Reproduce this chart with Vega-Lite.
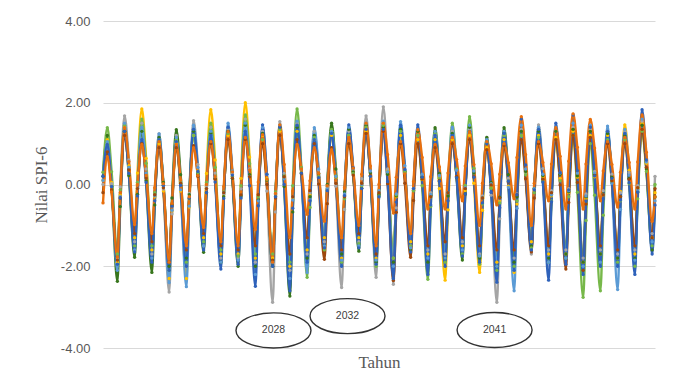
{
"$schema":"https://vega.github.io/schema/vega-lite/v6.json",
"width":552,"height":327,
"autosize":{"type":"none"},
"padding":{"left":103,"top":21,"right":20,"bottom":41},
"background":"white",
"config":{"view":{"stroke":null},"locale":{"number":{"decimal":".","thousands":",","grouping":[3],"currency":["$",""],"minus":"-"}}},
"datasets":{
"spi":[
{"m":0,"a":0.1,"b":0,"c":0.2,"d":0.3,"e":0.1,"f":-0.2,"g":0.2,"h":-0.45},
{"m":3,"a":1.1,"b":1.0,"c":1.2,"d":1.39,"e":1.05,"f":0.8,"g":0.98,"h":0.68},
{"m":6,"a":0.05,"b":0.02,"c":-0.05,"d":0.31,"e":-0.05,"f":-0.13,"g":-0.05,"h":-0.18},
{"m":10,"a":-1.9,"b":-1.8,"c":-2.37,"d":-1.7,"e":-2.1,"f":-1.85,"g":-1.95,"h":-1.78},
{"m":12,"a":-0.25,"b":-0.06,"c":-0.54,"d":-0.13,"e":-0.3,"f":-0.33,"g":-0.33,"h":-0.2},
{"m":15,"a":1.4,"b":1.68,"c":1.3,"d":1.45,"e":1.5,"f":1.2,"g":1.3,"h":1.39},
{"m":18,"a":0.46,"b":0.6,"c":0.22,"d":0.42,"e":0.42,"f":0.36,"g":0.27,"h":0.56},
{"m":22,"a":-1.3,"b":-1.4,"c":-1.78,"d":-1.5,"e":-1.6,"f":-1.2,"g":-1.65,"h":-0.98},
{"m":24,"a":0.28,"b":0.05,"c":-0.24,"d":0.05,"e":-0.1,"f":-0.1,"g":-0.28,"h":0},
{"m":27,"a":1.85,"b":1.5,"c":1.3,"d":1.6,"e":1.4,"f":1.0,"g":1.1,"h":0.98},
{"m":30,"a":0.64,"b":0.38,"c":0.09,"d":0.52,"e":0.28,"f":0.16,"g":0.05,"h":0.22},
{"m":34,"a":-1.6,"b":-1.7,"c":-2.15,"d":-1.5,"e":-1.8,"f":-1.4,"g":-1.9,"h":-1.2},
{"m":36,"a":-0.3,"b":-0.23,"c":-0.5,"d":-0.2,"e":-0.28,"f":-0.25,"g":-0.4,"h":-0.08},
{"m":39,"a":1.0,"b":1.24,"c":1.15,"d":1.1,"e":1.24,"f":0.9,"g":1.1,"h":1.05},
{"m":42,"a":-0.16,"b":-0.11,"c":0.05,"d":-0.02,"e":-0.03,"f":-0.08,"g":-0.02,"h":0.02},
{"m":46,"a":-2.3,"b":-2.63,"c":-2.0,"d":-2.1,"e":-2.4,"f":-1.9,"g":-2.1,"h":-1.9},
{"m":48,"a":-0.65,"b":-0.72,"c":-0.33,"d":-0.5,"e":-0.63,"f":-0.5,"g":-0.53,"h":-0.46},
{"m":51,"a":1.0,"b":1.2,"c":1.34,"d":1.1,"e":1.15,"f":0.9,"g":1.05,"h":0.98},
{"m":54,"a":-0.16,"b":0.08,"c":0.24,"d":0.05,"e":-0.13,"f":0.03,"g":-0.02,"h":0.11},
{"m":58,"a":-2.3,"b":-2.0,"c":-1.8,"d":-1.9,"e":-2.5,"f":-1.6,"g":-2.0,"h":-1.5},
{"m":60,"a":-0.55,"b":-0.22,"c":-0.25,"d":-0.35,"e":-0.53,"f":-0.33,"g":-0.33,"h":-0.3},
{"m":63,"a":1.2,"b":1.56,"c":1.3,"d":1.2,"e":1.45,"f":0.95,"g":1.35,"h":0.9},
{"m":66,"a":0.33,"b":0.49,"c":0.26,"d":0.29,"e":0.42,"f":0.2,"g":0.32,"h":0.22},
{"m":70,"a":-1.3,"b":-1.5,"c":-1.66,"d":-1.4,"e":-1.5,"f":-1.2,"g":-1.6,"h":-1.05},
{"m":72,"a":0.27,"b":-0.05,"c":-0.2,"d":0.05,"e":-0.1,"f":-0.1,"g":-0.2,"h":0},
{"m":75,"a":1.83,"b":1.4,"c":1.25,"d":1.5,"e":1.3,"f":1.0,"g":1.2,"h":1.05},
{"m":78,"a":0.6,"b":0.28,"c":0.15,"d":0.42,"e":0.18,"f":0.13,"g":0.06,"h":0.19},
{"m":82,"a":-1.7,"b":-1.8,"c":-1.9,"d":-1.6,"e":-1.9,"f":-1.5,"g":-2.07,"h":-1.4},
{"m":84,"a":-0.25,"b":-0.23,"c":-0.3,"d":-0.18,"e":-0.2,"f":-0.2,"g":-0.34,"h":-0.05},
{"m":87,"a":1.2,"b":1.35,"c":1.3,"d":1.25,"e":1.5,"f":1.1,"g":1.4,"h":1.29},
{"m":90,"a":0.19,"b":0.25,"c":0.15,"d":0.2,"e":0.33,"f":0.16,"g":0.23,"h":0.31},
{"m":94,"a":-1.7,"b":-1.8,"c":-2.0,"d":-1.75,"e":-1.85,"f":-1.6,"g":-1.95,"h":-1.5},
{"m":96,"a":0.15,"b":-0.1,"c":-0.28,"d":-0.03,"e":-0.18,"f":-0.25,"g":-0.33,"h":-0.18},
{"m":99,"a":2.0,"b":1.6,"c":1.45,"d":1.7,"e":1.5,"f":1.1,"g":1.3,"h":1.15},
{"m":102,"a":0.67,"b":0.38,"c":0.24,"d":0.51,"e":0.2,"f":0.19,"g":-0.03,"h":0.36},
{"m":106,"a":-1.8,"b":-1.9,"c":-2.0,"d":-1.7,"e":-2.2,"f":-1.5,"g":-2.49,"h":-1.1},
{"m":108,"a":-0.3,"b":-0.3,"c":-0.38,"d":-0.3,"e":-0.4,"f":-0.25,"g":-0.52,"h":0.06},
{"m":111,"a":1.2,"b":1.3,"c":1.25,"d":1.1,"e":1.4,"f":1.0,"g":1.46,"h":1.22},
{"m":114,"a":0.15,"b":-0.16,"c":0.11,"d":0.12,"e":0.25,"f":0,"g":0.25,"h":0.13},
{"m":118,"a":-1.8,"b":-2.88,"c":-2.0,"d":-1.7,"e":-1.9,"f":-1.85,"g":-2.0,"h":-1.9},
{"m":120,"a":-0.25,"b":-0.67,"c":-0.3,"d":-0.18,"e":-0.23,"f":-0.33,"g":-0.3,"h":-0.22},
{"m":123,"a":1.3,"b":1.54,"c":1.4,"d":1.35,"e":1.45,"f":1.2,"g":1.4,"h":1.46},
{"m":126,"a":0.15,"b":0.27,"c":-0.05,"d":0.21,"e":0.14,"f":0.19,"g":0,"h":0.49},
{"m":130,"a":-2.0,"b":-2.1,"c":-2.73,"d":-1.9,"e":-2.3,"f":-1.7,"g":-2.6,"h":-1.3},
{"m":132,"a":-0.35,"b":-0.3,"c":-0.67,"d":-0.03,"e":-0.38,"f":-0.3,"g":-0.58,"h":-0.16},
{"m":135,"a":1.3,"b":1.5,"c":1.4,"d":1.85,"e":1.55,"f":1.1,"g":1.45,"h":0.98},
{"m":138,"a":0.29,"b":0.38,"c":0.28,"d":0.41,"e":0.26,"f":0.26,"g":0.28,"h":0.38},
{"m":142,"a":-1.6,"b":-1.7,"c":-1.8,"d":-2.27,"e":-2.15,"f":-1.3,"g":-1.9,"h":-0.73},
{"m":144,"a":-0.25,"b":-0.2,"c":-0.3,"d":-0.56,"e":-0.38,"f":-0.15,"g":-0.4,"h":0.09},
{"m":147,"a":1.1,"b":1.3,"c":1.2,"d":1.15,"e":1.39,"f":1.0,"g":1.1,"h":0.9},
{"m":150,"a":0.26,"b":0.36,"c":0.26,"d":0.19,"e":0.38,"f":0.01,"g":0.17,"h":0.27},
{"m":154,"a":-1.3,"b":-1.4,"c":-1.5,"d":-1.6,"e":-1.5,"f":-1.83,"g":-1.55,"h":-0.9},
{"m":156,"a":-0.05,"b":-0.05,"c":0,"d":-0.13,"e":-0.1,"f":-0.47,"g":-0.15,"h":-0.03},
{"m":159,"a":1.2,"b":1.3,"c":1.5,"d":1.35,"e":1.3,"f":0.9,"g":1.25,"h":0.85},
{"m":162,"a":0.15,"b":-0.04,"c":0.38,"d":0.21,"e":0.2,"f":0.03,"g":0.11,"h":0.1},
{"m":166,"a":-1.8,"b":-2.52,"c":-1.7,"d":-1.9,"e":-1.85,"f":-1.6,"g":-2.0,"h":-1.3},
{"m":168,"a":-0.3,"b":-0.61,"c":-0.18,"d":-0.35,"e":-0.23,"f":-0.3,"g":-0.27,"h":-0.08},
{"m":171,"a":1.2,"b":1.3,"c":1.35,"d":1.2,"e":1.4,"f":1.0,"g":1.46,"h":1.15},
{"m":174,"a":0.33,"b":0.36,"c":0.31,"d":0.27,"e":0.39,"f":0.23,"g":0.41,"h":0.4},
{"m":178,"a":-1.3,"b":-1.4,"c":-1.63,"d":-1.45,"e":-1.5,"f":-1.2,"g":-1.55,"h":-1.0},
{"m":180,"a":0,"b":0.14,"c":-0.09,"d":-0.03,"e":0,"f":0.03,"g":-0.1,"h":0.25},
{"m":183,"a":1.3,"b":1.68,"c":1.45,"d":1.4,"e":1.5,"f":1.25,"g":1.35,"h":1.5},
{"m":186,"a":0.22,"b":0.3,"c":0.28,"d":0.21,"e":0.33,"f":0.22,"g":0.2,"h":0.45},
{"m":190,"a":-1.8,"b":-2.27,"c":-1.9,"d":-2.0,"e":-1.85,"f":-1.7,"g":-1.95,"h":-1.5},
{"m":192,"a":-0.15,"b":-0.19,"c":-0.25,"d":-0.28,"e":-0.15,"f":-0.2,"g":-0.3,"h":0},
{"m":195,"a":1.5,"b":1.9,"c":1.4,"d":1.45,"e":1.55,"f":1.3,"g":1.35,"h":1.5},
{"m":198,"a":0.35,"b":0.38,"c":0.25,"d":0.31,"e":0.31,"f":0.02,"g":0.07,"h":0.73},
{"m":202,"a":-1.8,"b":-2.44,"c":-1.9,"d":-1.8,"e":-2.0,"f":-2.35,"g":-2.3,"h":-0.7},
{"m":204,"a":-0.3,"b":-0.57,"c":-0.28,"d":-0.25,"e":-0.23,"f":-0.68,"g":-0.43,"h":0.18},
{"m":207,"a":1.2,"b":1.3,"c":1.35,"d":1.3,"e":1.54,"f":1.0,"g":1.45,"h":1.05},
{"m":210,"a":0.29,"b":0.32,"c":0.32,"d":0.32,"e":0.46,"f":0.03,"g":0.37,"h":0.26},
{"m":214,"a":-1.4,"b":-1.5,"c":-1.6,"d":-1.5,"e":-1.55,"f":-1.78,"g":-1.65,"h":-1.2},
{"m":216,"a":-0.15,"b":-0.15,"c":-0.15,"d":-0.15,"e":-0.1,"f":-0.39,"g":-0.1,"h":0.07},
{"m":219,"a":1.1,"b":1.2,"c":1.3,"d":1.2,"e":1.35,"f":1.0,"g":1.46,"h":1.34},
{"m":222,"a":0.12,"b":0.22,"c":0.18,"d":-0.03,"e":0.25,"f":0.13,"g":0.18,"h":0.66},
{"m":226,"a":-1.7,"b":-1.6,"c":-1.9,"d":-2.32,"e":-1.8,"f":-1.5,"g":-2.2,"h":-0.6},
{"m":228,"a":-0.3,"b":-0.2,"c":-0.26,"d":-0.54,"e":-0.25,"f":-0.3,"g":-0.5,"h":0.19},
{"m":231,"a":1.1,"b":1.2,"c":1.39,"d":1.25,"e":1.3,"f":0.9,"g":1.2,"h":0.98},
{"m":234,"a":-0.1,"b":0.19,"c":0.27,"d":0.15,"e":0.22,"f":0.1,"g":0.08,"h":0.43},
{"m":238,"a":-2.34,"b":-1.7,"c":-1.8,"d":-1.9,"e":-1.8,"f":-1.4,"g":-2.0,"h":-0.6},
{"m":240,"a":-0.62,"b":-0.2,"c":-0.28,"d":-0.2,"e":-0.2,"f":-0.2,"g":-0.4,"h":0.28},
{"m":243,"a":1.1,"b":1.3,"c":1.25,"d":1.5,"e":1.4,"f":1.0,"g":1.2,"h":1.15},
{"m":246,"a":0.19,"b":0.36,"c":0.17,"d":0.38,"e":0.35,"f":0.2,"g":0.17,"h":0.61},
{"m":250,"a":-1.5,"b":-1.4,"c":-1.85,"d":-1.7,"e":-1.6,"f":-1.3,"g":-1.75,"h":-0.4},
{"m":252,"a":-0.15,"b":-0.03,"c":-0.23,"d":-0.02,"e":-0.08,"f":-0.1,"g":-0.23,"h":0.45},
{"m":255,"a":1.2,"b":1.35,"c":1.4,"d":1.66,"e":1.45,"f":1.1,"g":1.3,"h":1.29},
{"m":258,"a":0.03,"b":0.28,"c":0.28,"d":0.4,"e":0.33,"f":0.19,"g":0.18,"h":0.49},
{"m":262,"a":-2.15,"b":-1.7,"c":-1.8,"d":-1.95,"e":-1.75,"f":-1.5,"g":-1.9,"h":-1.0},
{"m":264,"a":-0.63,"b":-0.28,"c":-0.33,"d":-0.48,"e":-0.33,"f":-0.33,"g":-0.45,"h":0.03},
{"m":267,"a":0.9,"b":1.15,"c":1.15,"d":1.0,"e":1.1,"f":0.85,"g":1.0,"h":1.05},
{"m":270,"a":-0.08,"b":-0.26,"c":0.05,"d":-0.09,"e":0.02,"f":-0.01,"g":-0.19,"h":0.51},
{"m":274,"a":-1.9,"b":-2.88,"c":-2.0,"d":-2.1,"e":-2.0,"f":-1.6,"g":-2.39,"h":-0.5},
{"m":276,"a":-0.4,"b":-0.84,"c":-0.31,"d":-0.45,"e":-0.35,"f":-0.33,"g":-0.57,"h":0.25},
{"m":279,"a":1.1,"b":1.2,"c":1.39,"d":1.2,"e":1.3,"f":0.95,"g":1.25,"h":1.0},
{"m":282,"a":-0.04,"b":0.15,"c":0.24,"d":0.08,"e":-0.07,"f":0.06,"g":0.08,"h":0.53},
{"m":286,"a":-2.15,"b":-1.8,"c":-1.9,"d":-2.0,"e":-2.6,"f":-1.6,"g":-2.1,"h":-0.35},
{"m":288,"a":-0.48,"b":-0.23,"c":-0.3,"d":-0.4,"e":-0.58,"f":-0.25,"g":-0.25,"h":0.66},
{"m":291,"a":1.2,"b":1.35,"c":1.3,"d":1.2,"e":1.45,"f":1.1,"g":1.6,"h":1.66},
{"m":294,"a":0.29,"b":0.28,"c":0.32,"d":0.24,"e":0.38,"f":0.14,"g":0.48,"h":0.73},
{"m":298,"a":-1.4,"b":-1.7,"c":-1.5,"d":-1.55,"e":-1.6,"f":-1.65,"g":-1.6,"h":-1.0},
{"m":300,"a":-0.1,"b":-0.12,"c":-0.1,"d":-0.2,"e":-0.1,"f":-0.33,"g":-0.13,"h":0.03},
{"m":303,"a":1.2,"b":1.46,"c":1.3,"d":1.15,"e":1.4,"f":1.0,"g":1.35,"h":1.05},
{"m":306,"a":0.19,"b":0.39,"c":0.22,"d":0.08,"e":0.25,"f":0.13,"g":0.06,"h":0.54},
{"m":310,"a":-1.7,"b":-1.6,"c":-1.8,"d":-1.9,"e":-1.9,"f":-1.5,"g":-2.34,"h":-0.4},
{"m":312,"a":-0.28,"b":-0.15,"c":-0.25,"d":-0.4,"e":-0.25,"f":-0.2,"g":-0.42,"h":0.5},
{"m":315,"a":1.15,"b":1.3,"c":1.3,"d":1.1,"e":1.4,"f":1.1,"g":1.5,"h":1.39},
{"m":318,"a":0.15,"b":0.29,"c":0.25,"d":0.09,"e":0.28,"f":-0.01,"g":0.29,"h":0.69},
{"m":322,"a":-1.7,"b":-1.6,"c":-1.7,"d":-1.8,"e":-1.8,"f":-2.07,"g":-1.95,"h":-0.6},
{"m":324,"a":-0.2,"b":-0.1,"c":-0.18,"d":-0.3,"e":-0.15,"f":-0.44,"g":-0.13,"h":0.57},
{"m":327,"a":1.3,"b":1.4,"c":1.35,"d":1.2,"e":1.5,"f":1.2,"g":1.7,"h":1.73},
{"m":330,"a":0.18,"b":0.28,"c":0.21,"d":-0.19,"e":0.28,"f":0.05,"g":0.34,"h":0.91},
{"m":334,"a":-1.9,"b":-1.8,"c":-1.9,"d":-2.76,"e":-2.0,"f":-2.1,"g":-2.2,"h":-0.6},
{"m":336,"a":-0.35,"b":-0.23,"c":-0.3,"d":-0.88,"e":-0.28,"f":-0.48,"g":-0.4,"h":0.5},
{"m":339,"a":1.2,"b":1.35,"c":1.3,"d":1.0,"e":1.45,"f":1.15,"g":1.4,"h":1.59},
{"m":342,"a":0.19,"b":0.32,"c":0.25,"d":-0.26,"e":0.28,"f":0.22,"g":0.21,"h":0.89},
{"m":346,"a":-1.7,"b":-1.6,"c":-1.7,"d":-2.6,"e":-1.9,"f":-1.5,"g":-2.0,"h":-0.4},
{"m":348,"a":-0.25,"b":-0.15,"c":-0.23,"d":-0.75,"e":-0.24,"f":-0.25,"g":-0.35,"h":0.33},
{"m":351,"a":1.2,"b":1.3,"c":1.25,"d":1.1,"e":1.43,"f":1.0,"g":1.3,"h":1.05},
{"m":354,"a":0.15,"b":0.25,"c":0.18,"d":0.05,"e":0.03,"f":0.09,"g":0.15,"h":0.49},
{"m":358,"a":-1.8,"b":-1.7,"c":-1.8,"d":-1.9,"e":-2.57,"f":-1.6,"g":-2.0,"h":-0.55},
{"m":360,"a":-0.17,"b":-0.2,"c":-0.3,"d":-0.4,"e":-0.61,"f":-0.3,"g":-0.38,"h":0.3},
{"m":363,"a":1.46,"b":1.3,"c":1.2,"d":1.1,"e":1.35,"f":1.0,"g":1.25,"h":1.15},
{"m":366,"a":0.35,"b":0.29,"c":0.15,"d":0.02,"e":0.23,"f":0.13,"g":0.04,"h":0.54},
{"m":370,"a":-1.7,"b":-1.6,"c":-1.8,"d":-2.0,"e":-1.85,"f":-1.5,"g":-2.2,"h":-0.6},
{"m":372,"a":-0.1,"b":-0.03,"c":-0.18,"d":-0.35,"e":-0.13,"f":-0.08,"g":-0.19,"h":0.55},
{"m":375,"a":1.5,"b":1.55,"c":1.45,"d":1.3,"e":1.6,"f":1.35,"g":1.83,"h":1.7},
{"m":378,"a":0.52,"b":0.59,"c":0.38,"d":0.32,"e":0.55,"f":0.42,"g":0.6,"h":0.79},
{"m":382,"a":-1.3,"b":-1.2,"c":-1.6,"d":-1.5,"e":-1.4,"f":-1.3,"g":-1.7,"h":-0.9},
{"m":384,"a":-0.2,"b":0.2,"c":-0.3,"d":0,"e":-0.4,"f":-0.1,"g":-0.5,"h":-0.3}
],
"notes":[
{"lab":"2028","m":118.6,"v":-3.57},
{"lab":"2032","m":170.1,"v":-3.22},
{"lab":"2041","m":272.4,"v":-3.56}
]
},
"layer":[
{"data":{"name":"spi"},
"transform":[{"fold":["a","b","c","d","e","f","g","h"],"as":["s","v"]}],
"mark":{"type":"line","interpolate":"monotone","strokeWidth":2.4,"point":{"filled":true,"size":11,"opacity":1}},
"encoding":{
"x":{"field":"m","type":"quantitative","scale":{"domain":[0,384],"nice":false,"zero":false},
"axis":{"title":"Tahun","labels":false,"ticks":false,"domain":false,"grid":false,"titleFont":"Liberation Serif","titleFontSize":17,"titleFontWeight":"normal","titleColor":"#595959","titlePadding":6}},
"y":{"field":"v","type":"quantitative","scale":{"domain":[-4,4],"nice":false},
"axis":{"title":"Nilai SPI-6","values":[-4,-2,0,2,4],"format":".2f","grid":true,"gridColor":"#D9D9D9","gridWidth":1,"domain":false,"ticks":false,"labelPadding":13,"labelFont":"Liberation Sans","labelFontSize":13,"labelColor":"#595959","titleFont":"Liberation Serif","titleFontSize":17,"titleFontWeight":"normal","titleColor":"#595959","titlePadding":10}},
"color":{"field":"s","type":"nominal","scale":{"domain":["a","b","c","d","e","f","g","h"],"range":["#FFC000","#A5A5A5","#38761D","#77B84A","#5B9BD5","#9E480E","#2F62BA","#E8700F"]},"legend":null}
}},
{"data":{"name":"notes"},
"mark":{"type":"point","shape":"M-1,0A1,0.467,0,1,0,1,0A1,0.467,0,1,0,-1,0Z","size":5625,"filled":false,"stroke":"#333333","strokeWidth":1.4,"opacity":1},
"encoding":{"x":{"field":"m","type":"quantitative"},"y":{"field":"v","type":"quantitative"}}},
{"data":{"name":"notes"},
"mark":{"type":"text","font":"Liberation Sans","fontSize":10.5,"color":"#404040","baseline":"middle","align":"center"},
"encoding":{"x":{"field":"m","type":"quantitative"},"y":{"field":"v","type":"quantitative"},"text":{"field":"lab"}}}
]
}
